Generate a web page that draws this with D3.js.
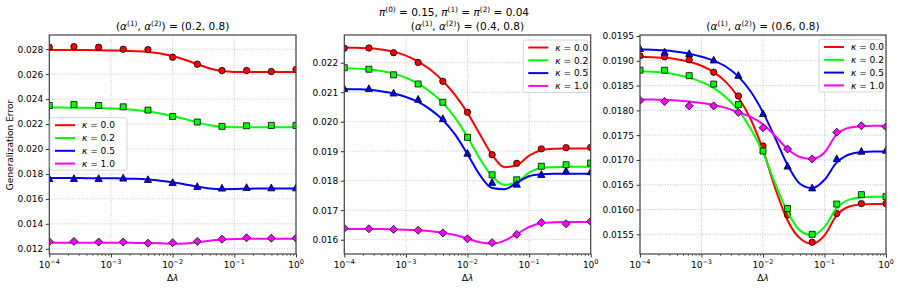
<!DOCTYPE html>
<html>
<head>
<meta charset="utf-8">
<script src="https://cdn.jsdelivr.net/npm/d3@7"></script>
<style>
	body { margin: 0; background: #fff; }
	svg text { font-family: "DejaVu Sans", sans-serif; fill: #000; }
</style>
</head>
<body>
<svg id="chart" width="900" height="289"></svg>
<script>

// simulation points (Δλ) and theory curve grid
var markerX = [1e-4, 2.51e-4, 6.31e-4, 1.58e-3, 3.98e-3, 1e-2, 2.51e-2, 6.31e-2, 1.58e-1, 3.98e-1, 1];
var curveX = [1e-4, 1.58e-4, 2.51e-4, 3.98e-4, 6.31e-4, 1e-3, 1.58e-3, 2.51e-3, 3.98e-3, 6.31e-3,
	1e-2, 1.58e-2, 2.51e-2, 3.98e-2, 6.31e-2, 1e-1, 1.58e-1, 2.51e-1, 3.98e-1, 6.31e-1, 1];
var xMajor = [1e-4, 1e-3, 1e-2, 1e-1, 1];
var xLabels = ["\u22124", "\u22123", "\u22122", "\u22121", "0"];

var kappas = ["0.0", "0.2", "0.5", "1.0"];
var colors = ["#ff0000", "#00ff00", "#0000ff", "#ff00ff"];
var shapes = ["circle", "square", "triangle", "diamond"];
var alphas = [["0.2", "0.8"], ["0.4", "0.8"], ["0.6", "0.8"]];

// panel 1: (0.2, 0.8)
var fit1 = [
	[.02794,.02794,.02794,.02793,.02792,.02790,.02788,.02784,.02778,.02766,.02745,.02715,.02680,.02646,.02625,.02618,.02617,.02617,.02617,.02617,.02617],
	[.02332,.02332,.02331,.02330,.02328,.02325,.02320,.02312,.02300,.02285,.02265,.02240,.02213,.02190,.02178,.02175,.02175,.02175,.02175,.02175,.02175],
	[.01767,.01767,.01767,.01766,.01766,.01765,.01764,.01761,.01755,.01746,.01733,.01716,.01698,.01684,.01678,.01679,.01681,.01683,.01683,.01683,.01683],
	[.01248,.01248,.01248,.01248,.01248,.01248,.01248,.01247,.01246,.01244,.01241,.01243,.01252,.01265,.01275,.01279,.01280,.01280,.01280,.01280,.01280]
];
var sim1 = [
	[.02816,.02821,.02816,.02800,.02797,.02736,.02680,.02629,.02629,.02621,.02637],
	[.02349,.02357,.02349,.02338,.02312,.02261,.02216,.02181,.02186,.02189,.02189],
	[.01765,.01765,.01765,.01768,.01757,.01733,.01701,.01688,.01693,.01690,.01690],
	[.01256,.01259,.01254,.01254,.01245,.01248,.01259,.01277,.01288,.01285,.01285]
];
var yTicks1 = [0.012, 0.014, 0.016, 0.018, 0.020, 0.022, 0.024, 0.026, 0.028];

// panel 2: (0.4, 0.8)
var fit2 = [
	[.02252,.02251,.02249,.02245,.02237,.02224,.02204,.02176,.02138,.02090,.02030,.01958,.01888,.01846,.01853,.01885,.01903,.01908,.01909,.01909,.01909],
	[.02181,.02180,.02177,.02172,.02163,.02149,.02129,.02101,.02064,.02013,.01948,.01875,.01815,.01786,.01795,.01827,.01843,.01846,.01847,.01847,.01847],
	[.02111,.02110,.02108,.02103,.02096,.02084,.02067,.02041,.02006,.01956,.01890,.01820,.01775,.01771,.01793,.01815,.01822,.01824,.01824,.01824,.01824],
	[.01636,.01636,.01636,.01636,.01635,.01634,.01632,.01629,.01624,.01616,.01604,.01591,.01586,.01597,.01619,.01643,.01656,.01659,.01660,.01660,.01660]
];
var sim2 = [
	[.02249,.02250,.02234,.02201,.02137,.02032,.01888,.01859,.01908,.01912,.01913],
	[.02183,.02178,.02159,.02128,.02066,.01947,.01820,.01803,.01849,.01854,.01860],
	[.02113,.02113,.02098,.02077,.02011,.01894,.01795,.01789,.01822,.01834,.01831],
	[.01639,.01637,.01635,.01632,.01623,.01603,.01590,.01618,.01658,.01654,.01662]
];
var yTicks2 = [0.016, 0.017, 0.018, 0.019, 0.020, 0.021, 0.022];

// panel 3: (0.6, 0.8)
var fit3 = [
	[.01908,.01907,.01906,.01903,.01898,.01890,.01877,.01857,.01826,.01782,.01720,.01643,.01578,.01542,.01531,.01548,.01588,.01606,.01610,.01611,.01611],
	[.01879,.01878,.01876,.01872,.01866,.01857,.01845,.01826,.01800,.01763,.01715,.01652,.01595,.01558,.01548,.01565,.01603,.01620,.01625,.01626,.01626],
	[.01923,.01922,.01921,.01918,.01914,.01908,.01900,.01888,.01868,.01838,.01796,.01744,.01690,.01652,.01643,.01660,.01695,.01711,.01716,.01717,.01717],
	[.01822,.01822,.01821,.01820,.01818,.01815,.01811,.01805,.01796,.01787,.01772,.01748,.01722,.01706,.01702,.01715,.01752,.01765,.01768,.01769,.01769]
];
var sim3 = [
	[.01910,.01908,.01902,.01877,.01829,.01728,.01589,.01534,.01592,.01612,.01612],
	[.01881,.01881,.01870,.01853,.01812,.01718,.01602,.01550,.01611,.01630,.01626],
	[.01925,.01918,.01915,.01902,.01871,.01794,.01688,.01644,.01703,.01718,.01720],
	[.01820,.01818,.01809,.01809,.01796,.01765,.01722,.01702,.01756,.01769,.01767]
];
var yTicks3 = [0.0155, 0.0160, 0.0165, 0.0170, 0.0175, 0.0180, 0.0185, 0.0190, 0.0195];

var TOP = 35, BOTTOM = 254;

var panels = [
	{left: 49.3, width: 246.7, yDomain: [0.01158, 0.02914], ticks: yTicks1, fmt: ".3f", fit: fit1, sim: sim1, legend: [50, 117.7, 77]},
	{left: 344.3, width: 246.4, yDomain: [0.015515, 0.02294], ticks: yTicks2, fmt: ".3f", fit: fit2, sim: sim2, legend: [523.3, 40, 64]},
	{left: 640, width: 246, yDomain: [0.015103, 0.01952], ticks: yTicks3, fmt: ".4f", fit: fit3, sim: sim3, legend: [819, 39.5, 63]}
];

var svg = d3.select("#chart");

function markerPath(kind) {
	if (kind == "circle") return d3.symbol(d3.symbolCircle, 32)();
	if (kind == "square") return "M-3,-3H3V3H-3Z";
	if (kind == "triangle") return "M0,-3.6L3.6,3.2L-3.6,3.2Z";
	return "M0,-4L4,0L0,4L-4,0Z";
}

// text with superscripts / italics: parts = [[text, "sup"|"it"|""], ...]
function richText(sel, parts, size) {
	var back = 0;
	parts.forEach(function(p) {
		var t = sel.append("tspan").text(p[0]);
		if (p[1] == "it") t.style("font-style", "italic");
		if (p[1] == "sup") {
			t.attr("dy", -size * 0.38).style("font-size", (size * 0.7) + "px");
			back = size * 0.38;
		} else if (back) {
			t.attr("dy", back);
			back = 0;
		}
	});
}

function drawPanel(p, pi) {
	var x = d3.scaleLog().domain([1e-4, 1]).range([p.left, p.left + p.width]);
	var y = d3.scaleLinear().domain(p.yDomain).range([BOTTOM, TOP]);
	var g = svg.append("g");

	g.append("clipPath").attr("id", "clip" + pi)
		.append("rect").attr("x", p.left).attr("y", TOP).attr("width", p.width).attr("height", BOTTOM - TOP);

	// grid
	g.selectAll(".gx").data(xMajor).enter().append("line")
		.attr("x1", function(d) { return x(d); }).attr("x2", function(d) { return x(d); })
		.attr("y1", TOP).attr("y2", BOTTOM)
		.style("stroke", "#b8b8b8").style("stroke-width", 0.8).style("stroke-dasharray", "1,1.5");
	g.selectAll(".gy").data(p.ticks).enter().append("line")
		.attr("y1", function(d) { return y(d); }).attr("y2", function(d) { return y(d); })
		.attr("x1", p.left).attr("x2", p.left + p.width)
		.style("stroke", "#b8b8b8").style("stroke-width", 0.8).style("stroke-dasharray", "1,1.5");

	// y axis
	var yAxis = g.append("g").attr("transform", "translate(" + p.left + ",0)")
		.call(d3.axisLeft(y).tickValues(p.ticks).tickFormat(d3.format(p.fmt)).tickSize(3.5).tickPadding(2.5));
	yAxis.select(".domain").remove();
	yAxis.selectAll(".tick line").style("stroke", "#333");
	yAxis.selectAll(".tick text").style("font-size", "9px").style("font-family", "DejaVu Sans");

	// x axis, minor then major
	var minor = x.ticks().filter(function(d) { return xMajor.indexOf(d) < 0; });
	var xMinor = g.append("g").attr("transform", "translate(0," + BOTTOM + ")")
		.call(d3.axisBottom(x).tickValues(minor).tickFormat("").tickSize(2));
	xMinor.select(".domain").remove();
	xMinor.selectAll(".tick line").style("stroke", "#333").style("stroke-width", 0.7);
	var xAxis = g.append("g").attr("transform", "translate(0," + BOTTOM + ")")
		.call(d3.axisBottom(x).tickValues(xMajor).tickFormat("").tickSize(3.5));
	xAxis.select(".domain").remove();
	xAxis.selectAll(".tick line").style("stroke", "#333");
	xMajor.forEach(function(d, i) {
		var t = g.append("text").attr("x", x(d)).attr("y", 268).attr("text-anchor", "middle").style("font-size", "9px");
		t.append("tspan").text("10");
		t.append("tspan").attr("dy", -4).style("font-size", "6.5px").text(xLabels[i]);
	});

	// curves and points
	var line = d3.line()
		.x(function(d, i) { return x(curveX[i]); })
		.y(function(d) { return y(d); })
		.curve(d3.curveMonotoneX);
	var plot = g.append("g").attr("clip-path", "url(#clip" + pi + ")");
	p.fit.forEach(function(series, k) {
		plot.append("path").datum(series).attr("d", line)
			.style("fill", "none").style("stroke", colors[k]).style("stroke-width", 2);
		plot.selectAll(".m" + k).data(p.sim[k]).enter().append("path")
			.attr("d", markerPath(shapes[k]))
			.attr("transform", function(d, i) { return "translate(" + x(markerX[i]) + "," + y(d) + ")"; })
			.style("fill", colors[k]).style("stroke", "#000").style("stroke-width", 0.8);
	});

	// frame
	g.append("rect").attr("x", p.left).attr("y", TOP).attr("width", p.width).attr("height", BOTTOM - TOP)
		.style("fill", "none").style("stroke", "#444").style("stroke-width", 1.2);

	// title
	var title = g.append("text").attr("x", p.left + p.width / 2).attr("y", 30)
		.attr("text-anchor", "middle").style("font-size", "10.5px");
	richText(title, [["(", ""], ["\u03b1", "it"], ["(1)", "sup"], [", ", ""], ["\u03b1", "it"], ["(2)", "sup"],
		[") = (" + alphas[pi][0] + ", " + alphas[pi][1] + ")", ""]], 10.5);

	// x label
	var xl = g.append("text").attr("x", p.left + p.width / 2).attr("y", 281)
		.attr("text-anchor", "middle").style("font-size", "9px");
	xl.append("tspan").text("\u0394");
	xl.append("tspan").style("font-style", "italic").text("\u03bb");

	// legend
	var L = p.legend;
	var leg = g.append("g").attr("transform", "translate(" + L[0] + "," + L[1] + ")");
	leg.append("rect").attr("width", L[2]).attr("height", 52.5).attr("rx", 2)
		.style("fill", "#fff").style("fill-opacity", 0.8).style("stroke", "#ccc").style("stroke-width", 0.8);
	kappas.forEach(function(kv, k) {
		var yy = 7.5 + k * 12.8;
		leg.append("line").attr("x1", 5).attr("x2", 25).attr("y1", yy).attr("y2", yy)
			.style("stroke", colors[k]).style("stroke-width", 2);
		var t = leg.append("text").attr("x", 32).attr("y", yy + 3.3).style("font-size", "9px");
		t.append("tspan").style("font-style", "italic").text("\u03ba");
		t.append("tspan").text(" = " + kv);
	});
}

panels.forEach(drawPanel);

// y label
svg.append("text").attr("transform", "translate(13,145) rotate(-90)")
	.attr("text-anchor", "middle").style("font-size", "9px").text("Generalization Error");

// super title
var sup = svg.append("text").attr("x", 454).attr("y", 16).attr("text-anchor", "middle").style("font-size", "10.5px");
richText(sup, [["\u03c0", "it"], ["(0)", "sup"], [" = 0.15, ", ""], ["\u03c0", "it"], ["(1)", "sup"], [" = ", ""],
	["\u03c0", "it"], ["(2)", "sup"], [" = 0.04", ""]], 10.5);

</script>
</body>
</html>
